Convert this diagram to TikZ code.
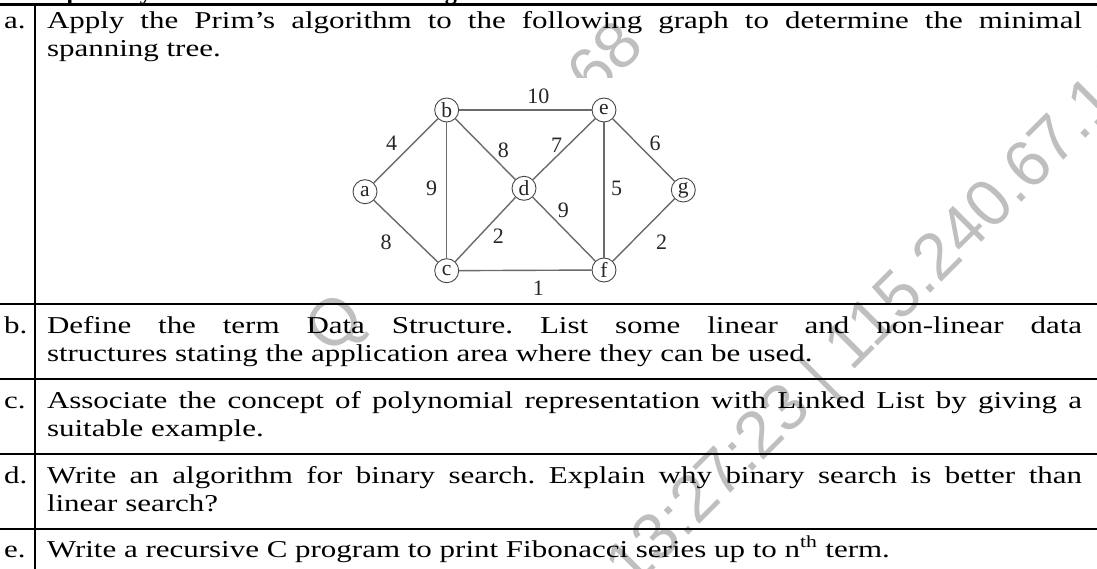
\documentclass[tikz,border=0pt]{standalone}
\usepackage{fontspec}
\setmainfont{Liberation Serif}
\newfontfamily\wmfont{Liberation Sans}
% body text of the paper is set slightly wide
\newcommand{\widetext}[1]{\scalebox{1.28}[1]{#1}}
\newcommand{\itemtext}[1]{\widetext{\parbox[t]{808.6pt}{\frenchspacing #1}}}
\begin{document}
\begin{tikzpicture}[x=1pt,y=-1pt,
  body/.style={anchor=base west, inner sep=0pt, outer sep=0pt,
    font=\fontsize{24.2}{28}\selectfont},
  itemlbl/.style={anchor=base west, inner sep=0pt, font=\fontsize{24.2}{28}\selectfont},
  vtx/.style={circle, draw=black!72, line width=0.9pt, minimum size=24pt, inner sep=0pt,
    font=\fontsize{21.5}{21.5}\selectfont, text=black!85},
  edge/.style={draw=black!58, line width=1.4pt},
  wt/.style={inner sep=0pt, font=\fontsize{22}{22}\selectfont, text=black!85},
  wm/.style={text=black!25, font=\wmfont\fontsize{66}{66}\selectfont, rotate=45,
    anchor=base west, inner sep=0pt},
  tablerule/.style={line width=2pt}]
\useasboundingbox (0,0) rectangle (1097,569);
\clip (0,0) rectangle (1097,569);

% watermark behind everything
\node[wm] (wmq) at (331,357) {Q};
\node[wm] (wmtop) at (594,101) {68};
\node[wm] (wmlow) at (632,592) {13:27:23 | 115.240.67.168};

% heading of the section (only its descenders fall inside the page area)
\node[anchor=base west, inner sep=0pt, font=\fontsize{24.2}{28}\selectfont\bfseries]
  (head) at (2,-0.5) {\spaceskip=26pt\relax Attempt any three of the following:};

% graph panel
\fill[white] (318,78) rectangle (705,292);

\node[vtx] (a) at (365,191.7) {a};
\node[vtx] (b) at (446.7,110) {b};
\node[vtx] (c) at (446.7,270.7) {c};
\node[vtx] (d) at (524,188.3) {d};
\node[vtx] (e) at (604,110) {e};
\node[vtx] (f) at (604,270) {f};
\node[vtx] (g) at (683.3,190) {g};

\draw[edge] (a) -- (b);
\draw[edge] (a) -- (c);
\draw[edge] (b) -- (c);
\draw[edge] (b) -- (d);
\draw[edge] (b) -- (e);
\draw[edge] (c) -- (d);
\draw[edge] (c) -- (f);
\draw[edge] (d) -- (e);
\draw[edge] (d) -- (f);
\draw[edge] (e) -- (f);
\draw[edge] (e) -- (g);
\draw[edge] (f) -- (g);

\node[wt] (wbe) at (538.3,96.7) {10};
\node[wt] (wab) at (391.7,143.3) {4};
\node[wt] (wbd) at (503.3,150) {8};
\node[wt] (wde) at (556.7,145) {7};
\node[wt] (weg) at (655,143.3) {6};
\node[wt] (wbc) at (431.7,188.3) {9};
\node[wt] (wef) at (616.7,188.3) {5};
\node[wt] (wdf) at (563.3,210) {9};
\node[wt] (wac) at (386,242.7) {8};
\node[wt] (wcd) at (498.3,236.7) {2};
\node[wt] (wfg) at (661.7,242.7) {2};
\node[wt] (wcf) at (538.3,288.3) {1};

% table rules
\draw[line width=3pt] (0,5) -- (1097,5);
\draw[tablerule] (0,304) -- (1097,304);
\draw[tablerule] (0,379) -- (1097,379);
\draw[tablerule] (0,454) -- (1097,454);
\draw[tablerule] (0,529) -- (1097,529);
\draw[tablerule] (34.5,5) -- (34.5,569);

% item labels
\node[itemlbl] (la) at (4,29) {\widetext{a.}};
\node[itemlbl] (lb) at (4,333) {\widetext{b.}};
\node[itemlbl] (lc) at (4,408) {\widetext{c.}};
\node[itemlbl] (ld) at (4,483) {\widetext{d.}};
\node[itemlbl] (le) at (4,557) {\widetext{e.}};

% item texts
\node[body] (ta) at (47,29) {\itemtext{Apply the Prim’s algorithm to the following graph to determine the minimal\linebreak spanning tree.}};
\node[body] (tb) at (47,333) {\itemtext{Define the term Data Structure. List some linear and non-linear data\linebreak structures stating the application area where they can be used.}};
\node[body] (tc) at (47,408) {\itemtext{Associate the concept of polynomial representation with Linked List by giving a\linebreak suitable example.}};
\node[body] (td) at (47,483) {\itemtext{Write an algorithm for binary search. Explain why binary search is better than\linebreak linear search?}};
\node[body] (te) at (47,557) {\itemtext{Write a recursive C program to print Fibonacci series up to n\textsuperscript{th} term.}};
\end{tikzpicture}
\end{document}
